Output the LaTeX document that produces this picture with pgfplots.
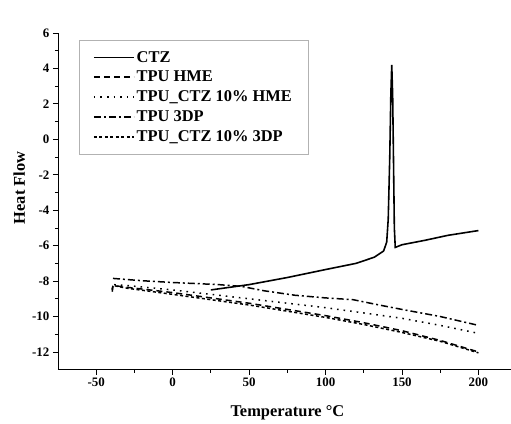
\documentclass[border=0pt]{standalone}
\usepackage{fontspec}
\setmainfont{Liberation Serif}
\usepackage{pgfplots}
\pgfplotsset{compat=1.18}

\begin{document}
\begin{tikzpicture}
\begin{axis}[scale only axis,width=453bp,height=337bp,
  xmin=-75,xmax=221,ymin=-13,ymax=6,
  axis x line=bottom,axis y line=left,axis line style={-,line width=0.9pt},
  tick align=outside,major tick length=5bp,minor tick length=3bp,
  every tick/.style={black,line width=0.8pt},
  xtick={-50,0,50,100,150,200},xticklabels={-50,0,50,100,150,200},
  ytick={-12,-10,-8,-6,-4,-2,0,2,4,6},yticklabels={-12,-10,-8,-6,-4,-2,0,2,4,6},
  minor x tick num=1,minor y tick num=1,
  ticklabel style={font=\bfseries\fontsize{13}{13}\selectfont},
  xlabel={Temperature °C},ylabel={Heat Flow},
  label style={font=\bfseries\fontsize{16.5}{16.5}\selectfont},
  xlabel style={at={(axis description cs:0.507,-0.139)},anchor=base},
  ylabel style={at={(axis description cs:-0.073,0.54)},anchor=base},
  legend cell align=left,
  legend image code/.code={\draw[#1,line width=1.8pt] (0bp,0bp) -- (40bp,0bp);},
  legend style={draw=gray!60,line width=0.4pt,at={(axis description cs:0.046,0.979)},anchor=north west,
    font=\bfseries\fontsize{16.5}{16.5}\selectfont,inner xsep=14bp,inner ysep=9bp,row sep=3.5bp},
  clip=false]
\path (rel axis cs:0,0) ++(-58bp,-51bp) rectangle ++(511bp,421bp);
% CTZ
\addplot[black,line width=1.6pt] coordinates {(25,-8.5) (35,-8.38) (50,-8.2) (75,-7.8) (100,-7.35) (120,-7.0) (132,-6.65) (138,-6.3) (140,-5.8) (141,-4.5) (142,-1) (142.7,2.5) (143.3,4.2) (143.9,2.5) (144.5,-1.5) (145,-5) (145.6,-6.1) (150,-5.95) (165,-5.7) (180,-5.42) (200,-5.15)};
% TPU HME
\addplot[black,line width=1.5pt,dash pattern=on 6bp off 4bp] coordinates {(-39.5,-8.6) (-39,-8.25) (-30,-8.35) (0,-8.65) (25,-8.95) (50,-9.25) (75,-9.6) (100,-9.95) (125,-10.35) (150,-10.8) (175,-11.35) (200,-12.0)};
% TPU_CTZ 10% HME
\addplot[black,line width=1.5pt,dash pattern=on 1.6bp off 5bp] coordinates {(-39.5,-8.5) (-39,-8.2) (-30,-8.25) (0,-8.5) (25,-8.75) (50,-9.0) (75,-9.25) (100,-9.5) (125,-9.8) (150,-10.1) (175,-10.5) (200,-10.95)};
% TPU 3DP
\addplot[black,line width=1.5pt,dash pattern=on 7bp off 3bp on 2bp off 3bp] coordinates {(-39,-7.85) (-20,-7.98) (0,-8.08) (30,-8.2) (45,-8.3) (60,-8.55) (80,-8.8) (100,-8.95) (118,-9.05) (135,-9.35) (150,-9.6) (175,-10.0) (200,-10.5)};
% TPU_CTZ 10% 3DP
\addplot[black,line width=1.5pt,dash pattern=on 3bp off 2.5bp] coordinates {(-39.5,-8.45) (-39,-8.25) (-30,-8.4) (0,-8.75) (25,-9.05) (50,-9.35) (75,-9.7) (100,-10.05) (125,-10.45) (150,-10.9) (175,-11.4) (200,-12.05)};
\legend{CTZ,TPU HME,TPU\_CTZ 10\% HME,TPU 3DP,TPU\_CTZ 10\% 3DP}
\end{axis}
\end{tikzpicture}
\end{document}
